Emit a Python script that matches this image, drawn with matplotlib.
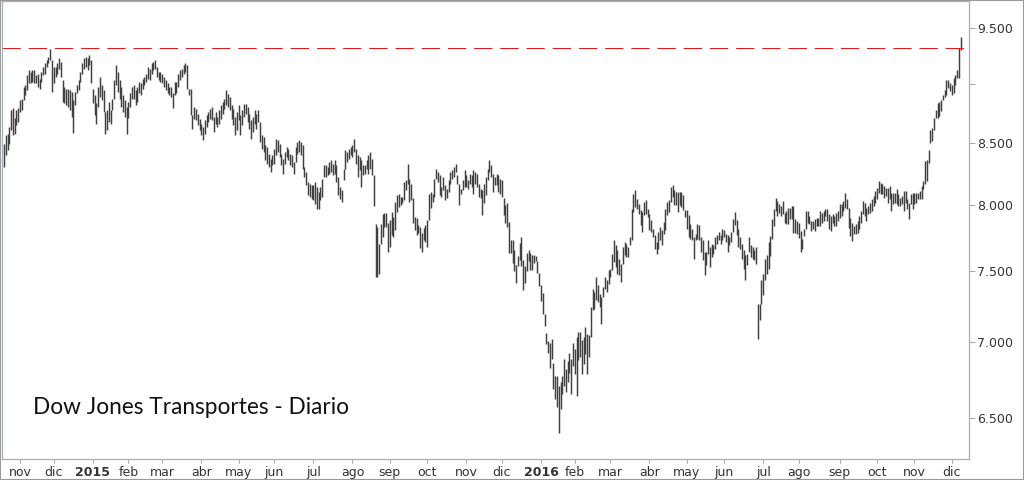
import numpy as np
import pandas as pd
import matplotlib
matplotlib.use("Agg")
import matplotlib.pyplot as plt
from matplotlib.ticker import FixedLocator, NullLocator
from matplotlib.patches import Rectangle

## Dow Jones Transportation, daily bars, 21-oct-2014 .. dic-2016

high = [
    # oct / nov 2014
    8492, 8560, 8575, 8631, 8773, 8787, 8702, 8773, 8787, 8858,
    8872, 8973, 8987, 9075, 9120, 9105, 9120, 9120, 9075, 9090,
    9046, 9105, 9150, 9180, 9210, 9241, 9310, 9210, 9150, 9150,
    9180, 9225, 9195, 9032, 8973, 8958, 8958, 8944, 8930, 8858,
    8930, 8987, 9032, 9105, 9180, 9225, 9241, 9225, 9255, 9210,
    # 2015
    8958, 8901, 8830, 8973, 9060, 8987, 8944, 8759, 8773, 8845,
    8773, 8872, 9032, 9165, 9105, 9032, 8973, 8901, 8858, 8801,
    8845, 8916, 8973, 8987, 8944, 8973, 9018, 9003, 9046, 9060,
    9090, 9150, 9135, 9180, 9195, 9210, 9150, 9105, 9105, 9090,
    9060, 9032, 9003, 8973, 8973, 8916, 9018, 9018, 9090, 9120,
    9135, 9165, 9180, 9165, 8958, 8958, 8730,
    8800, 8786, 8743, 8701, 8659, 8631, 8687, 8729, 8757, 8786,
    8800, 8715, 8757, 8715, 8771, 8814, 8843, 8872, 8950, 8915,
    8886, 8814, 8786, 8715, 8757, 8814, 8729, 8771, 8828, 8828,
    8800, 8743, 8687, 8715, 8771, 8743, 8771, 8673, 8561, 8547,
    8478, 8464, 8410, 8369, 8396, 8451, 8533, 8519, 8492, 8410,
    8369, 8423, 8464, 8451, 8410, 8396, 8341, 8464, 8505, 8519,
    8505, 8478, 8301, 8260, 8180, 8167, 8154, 8154, 8180, 8140,
    8101, 8140, 8207, 8314, 8314, 8301, 8341, 8355, 8327, 8355,
    8314, 8220, 8140, 8114, 8287, 8437, 8423, 8451, 8464, 8478,
    8533, 8451, 8396, 8382, 8355, 8314, 8314, 8355, 8396, 8423,
    8369, 8234, 7855, 7830, 7704, 7855, 7932,
    7934, 7934, 7857, 7883, 7947, 7908, 8024, 8076, 8089, 8063,
    8063, 8181, 8194, 8327, 8207, 8167, 8050, 7908, 7896, 7845,
    7832, 7782, 7820, 7845, 7883, 8089, 8102, 8089, 8207, 8287,
    8261, 8234, 8141, 8221, 8154, 8128, 8194, 8261, 8274, 8301,
    8327, 8234, 8167, 8128, 8194, 8274, 8234, 8194, 8247, 8234,
    8274, 8261, 8247, 8167, 8128, 8115, 8167, 8221, 8287, 8354,
    8314, 8247, 8221, 8247, 8234, 8207, 8194, 8050, 7998, 8011,
    7870, 7732, 7732, 7657, 7548, 7609, 7707, 7757, 7584, 7535,
    7633, 7657, 7633, 7621, 7621, 7609, 7572, 7487, 7403, 7343,
    # 2016
    7191, 7065, 7008, 6997, 7019, 6862, 6774, 6774, 6709, 6731,
    6774, 6885, 6818, 6873, 6929, 6885, 6997,
    6955, 7035, 7070, 7070, 7012, 7035, 7104, 7058, 7047, 7244,
    7374, 7350, 7458, 7398, 7338, 7314, 7386, 7458, 7434, 7506,
    7519, 7629, 7729, 7691, 7654, 7592, 7555, 7679, 7716, 7704,
    7679, 7754,
    7971, 8088, 8114, 8049, 8010, 7958, 7945, 8023, 8036, 7971,
    7932, 7881, 7817, 7766, 7716, 7791, 7830, 7804, 7868, 7971,
    8023, 8036, 8141, 8154, 8114, 8101, 8101, 8101, 8101, 8075,
    7958, 7958, 7919, 7855, 7817, 7754, 7779, 7855, 7842, 7754,
    7729, 7641, 7641, 7729, 7679, 7704, 7691, 7754, 7766, 7791,
    7766, 7817, 7804, 7779, 7766, 7754, 7791, 7893, 7945, 7881,
    7817, 7754, 7704, 7654, 7617, 7629, 7754, 7691, 7679, 7654,
    7679, 7268, 7268, 7434, 7482, 7592,
    7620, 7713, 7763, 7890, 7966, 8056, 8031, 8005, 7992, 8031,
    7940, 7953, 7979, 7979, 7992, 7992, 7889, 7877, 7864, 7800,
    7738, 7813, 7953, 7953, 7915, 7877, 7877, 7890, 7902,
    7902, 7953, 7940, 7953, 7966, 7966, 7928, 7915, 7928, 7915,
    7940, 7953, 8005, 8005, 8031, 8095, 8044, 7979, 7902, 7864,
    7838, 7851, 7877, 7915, 7953, 8031, 8018, 7979, 7992, 8018,
    8044, 8069, 8108, 8135, 8187, 8174, 8161, 8148, 8135, 8135,
    8148, 8095, 8095, 8095, 8122, 8082, 8056, 8069, 8108, 8108,
    8044, 8018, 8082, 8095, 8095, 8095, 8095, 8108, 8148, 8187,
    8348, 8361, 8442, 8607, 8621, 8705, 8775, 8832, 8846, 8860,
    8904, 8947, 9034, 9034, 9004, 8990, 9048, 9077, 9121, 9315,
    9420,
]

low = [
    8302, 8397, 8437, 8492, 8604, 8562, 8575, 8645, 8673, 8759,
    8773, 8858, 8901, 8944, 9003, 9003, 9018, 9003, 9003, 8973,
    8958, 9018, 9075, 9090, 9150, 9180, 9210, 8930, 9003, 9060,
    9090, 9135, 9060, 8845, 8830, 8816, 8801, 8773, 8716, 8581,
    8816, 8916, 8944, 9018, 9090, 9135, 9150, 9120, 9165, 9003,
    8830, 8730, 8659, 8801, 8887, 8858, 8759, 8575, 8604, 8673,
    8659, 8773, 8872, 8987, 8930, 8872, 8801, 8759, 8716, 8575,
    8702, 8801, 8872, 8872, 8816, 8845, 8916, 8901, 8958, 8987,
    9018, 9046, 9032, 9090, 9120, 9135, 9060, 9032, 9018, 9003,
    8973, 8944, 8916, 8901, 8887, 8787, 8901, 8916, 8973, 9032,
    9060, 9090, 9105, 8958, 8901, 8730, 8615,
    8701, 8687, 8645, 8602, 8561, 8519, 8575, 8631, 8673, 8701,
    8687, 8589, 8659, 8631, 8659, 8701, 8743, 8786, 8814, 8800,
    8771, 8701, 8645, 8561, 8602, 8687, 8561, 8645, 8715, 8743,
    8673, 8617, 8533, 8589, 8659, 8617, 8673, 8505, 8451, 8423,
    8355, 8327, 8301, 8261, 8314, 8327, 8396, 8423, 8382, 8314,
    8247, 8327, 8382, 8355, 8314, 8301, 8247, 8341, 8410, 8423,
    8396, 8287, 8220, 8154, 8075, 8062, 8049, 8036, 8010, 7971,
    7971, 8036, 8062, 8220, 8220, 8234, 8247, 8261, 8234, 8247,
    8180, 8075, 8049, 8023, 8193, 8287, 8341, 8369, 8396, 8382,
    8423, 8327, 8220, 8274, 8140, 8234, 8247, 8287, 8247, 8287,
    8234, 7990, 7459, 7459, 7483, 7704, 7754,
    7832, 7832, 7645, 7682, 7770, 7757, 7807, 7947, 7985, 7998,
    8011, 8037, 8115, 8167, 8024, 8037, 7857, 7807, 7770, 7782,
    7670, 7645, 7732, 7720, 7682, 7883, 7972, 8024, 8063, 8207,
    8181, 8076, 8063, 8115, 8037, 8050, 8102, 8167, 8207, 8221,
    8261, 8167, 7998, 8089, 8115, 8141, 8141, 8128, 8167, 8141,
    8089, 8167, 8141, 8063, 8050, 7921, 8011, 8076, 8194, 8261,
    8221, 8102, 8154, 8154, 8102, 8089, 8063, 7921, 7857, 7832,
    7633, 7633, 7560, 7499, 7415, 7535, 7584, 7535, 7367, 7415,
    7499, 7572, 7511, 7511, 7560, 7572, 7487, 7391, 7284, 7191,
    7110, 6985, 6929, 6829, 6885, 6688, 6623, 6570, 6405, 6560,
    6655, 6709, 6666, 6731, 6796, 6655, 6840,
    6788, 6646, 6877, 6900, 6788, 6855, 6922, 6788, 6900, 7035,
    7220, 7232, 7291, 7279, 7244, 7127, 7314, 7374, 7350, 7410,
    7458, 7506, 7568, 7531, 7482, 7470, 7422, 7555, 7617, 7604,
    7604, 7691,
    7729, 7945, 7984, 7971, 7932, 7842, 7791, 7919, 7932, 7906,
    7804, 7791, 7754, 7666, 7629, 7666, 7729, 7691, 7779, 7804,
    7919, 7945, 8023, 8062, 7997, 7997, 7945, 7997, 7984, 7958,
    7906, 7817, 7754, 7741, 7729, 7592, 7729, 7741, 7729, 7641,
    7580, 7470, 7543, 7629, 7531, 7604, 7629, 7666, 7704, 7729,
    7704, 7729, 7754, 7716, 7641, 7691, 7716, 7791, 7842, 7766,
    7679, 7666, 7592, 7519, 7434, 7543, 7641, 7604, 7592, 7580,
    7555, 7025, 7151, 7268, 7327, 7434,
    7480, 7517, 7614, 7738, 7840, 7953, 7915, 7940, 7915, 7927,
    7864, 7851, 7851, 7889, 7889, 7788, 7788, 7775, 7750, 7639,
    7664, 7763, 7813, 7864, 7851, 7800, 7813, 7800, 7838,
    7838, 7838, 7864, 7877, 7915, 7877, 7813, 7800, 7864, 7838,
    7838, 7877, 7902, 7915, 7953, 7979, 7966, 7826, 7763, 7725,
    7775, 7775, 7788, 7813, 7864, 7927, 7915, 7877, 7927, 7940,
    7953, 7992, 8018, 8044, 8095, 8082, 8082, 8056, 8069, 8018,
    8044, 7953, 8005, 8018, 8005, 7992, 7992, 8005, 7953, 8018,
    7966, 7890, 8005, 7966, 8005, 8018, 8044, 8044, 8044, 8122,
    8161, 8187, 8334, 8497, 8511, 8607, 8705, 8705, 8719, 8761,
    8860, 8889, 8904, 8961, 8933, 8904, 8918, 8990, 9048, 9048,
    9300,
]

prev_high = 9317   # maximo de dic-2014
yticks = [6500, 7000, 7500, 8000, 8500, 9000, 9500]
ylabels = ["6.500", "7.000", "7.500", "8.000", "8.500", "", "9.500"]
meses = ["ene", "feb", "mar", "abr", "may", "jun", "jul", "ago", "sep", "oct", "nov", "dic"]
titulo = "Dow Jones Transportes - Diario"

# NYSE closed days in the period
festivos = ["2014-11-27", "2014-12-25", "2015-01-01", "2015-01-19", "2015-02-16",
            "2015-04-03", "2015-05-25", "2015-07-03", "2015-09-07", "2015-11-26",
            "2015-12-25", "2016-01-01", "2016-01-18", "2016-02-15", "2016-03-25",
            "2016-05-30", "2016-07-04", "2016-09-05", "2016-11-24"]

dates = pd.bdate_range("2014-10-21", periods=len(high), freq="C", holidays=festivos)
x = np.arange(len(dates))

fig = plt.figure(figsize=(10.24, 4.8), dpi=100)
ax = fig.add_axes([2/1024, 21/480, 967/1024, 458/480])

ax.vlines(x, low, high, color="#404040", lw=1.05)
ax.axhline(prev_high, color="#e8141c", lw=0.72, dashes=(18.3, 7.9))

ax.set_yscale("log")
ax.set_ylim(6248, 9755)
ax.set_xlim(-1.1, 542.7)

ax.yaxis.tick_right()
ax.yaxis.set_major_locator(FixedLocator(yticks))
ax.yaxis.set_minor_locator(NullLocator())
ax.set_yticklabels(ylabels)

# month ticks
pos = [i for i in range(1, len(dates)) if dates[i].month != dates[i-1].month]
lab = [str(dates[i].year) if dates[i].month == 1 else meses[dates[i].month-1] for i in pos]
ax.set_xticks(pos)
ax.set_xticklabels(lab)
for t in ax.get_xticklabels():
    if t.get_text().isdigit():
        t.set_fontweight("bold")

ax.tick_params(axis="y", direction="out", length=4, width=0.8, color="#a8aeb6",
               labelsize=9, labelcolor="#333333", pad=2)
ax.tick_params(axis="x", direction="out", length=3, width=0.8, color="#a8aeb6",
               labelsize=9, labelcolor="#333333", pad=2)
for s in ax.spines.values():
    s.set_color("#a8aeb6")
    s.set_linewidth(0.9)

fig.text(33/1024, 1 - 407/480, titulo, fontsize=16.3, family=["Lato", "DejaVu Sans"],
         color="#111111", va="center", ha="left")

# marco de la imagen
fig.patches.append(Rectangle((0, 0), 1, 1, transform=fig.transFigure, fill=False,
                             edgecolor="#9a9a9a", lw=1.5))

fig.savefig("out.png", dpi=100)
